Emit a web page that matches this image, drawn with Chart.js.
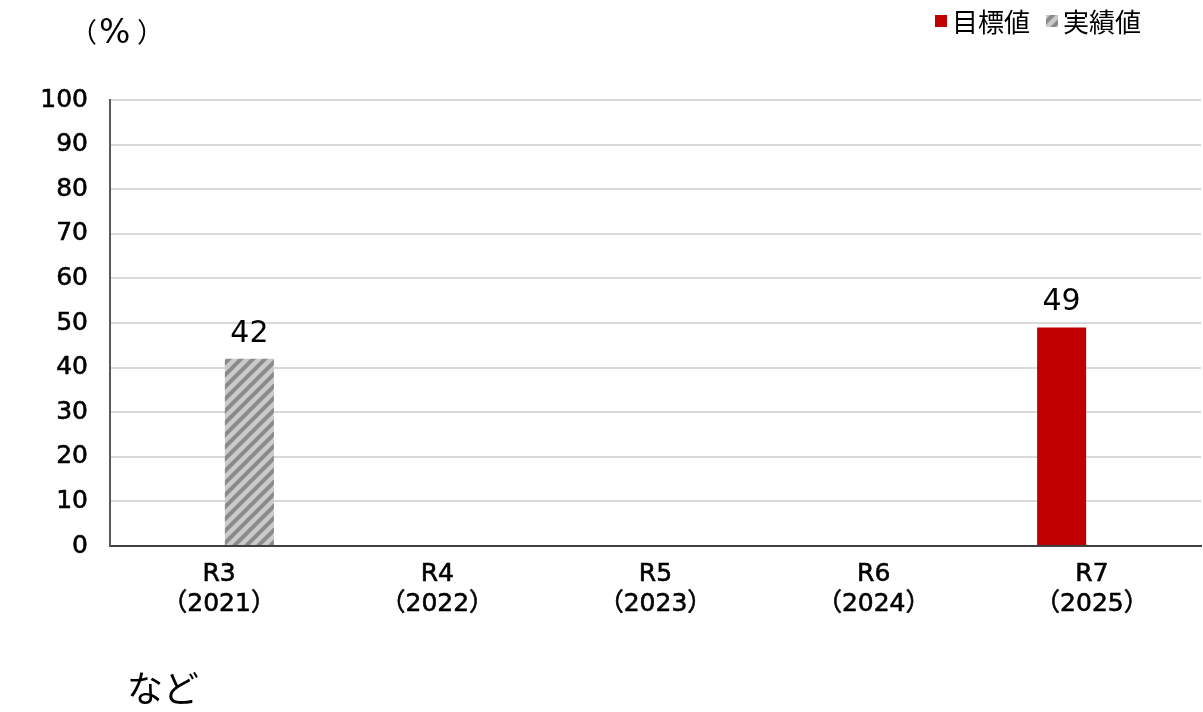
<!DOCTYPE html>
<html lang="ja">
<head>
<meta charset="utf-8">
<script src="https://cdn.jsdelivr.net/npm/chart.js@4"></script>
<style>
    body { margin: 0; background: #fff; }
    canvas { display: block; }
</style>
</head>
<body>
<canvas id="chart" width="1203" height="712"></canvas>
<script>
//DATOS
const categories = [['R3', '（2021）'], ['R4', '（2022）'], ['R5', '（2023）'], ['R6', '（2024）'], ['R7', '（2025）']];
const targetValues = [null, null, null, null, 49];
const actualValues = [42, null, null, null, null];
const seriesNames = ['目標値', '実績値'];
const yTicks = [0, 10, 20, 30, 40, 50, 60, 70, 80, 90, 100];

const FONT = '"DejaVu Sans", "Noto Sans CJK JP", sans-serif';

//patron rayado
function makeHatch() {
    const tile = document.createElement('canvas');
    tile.width = 12;
    tile.height = 12;
    const c = tile.getContext('2d');
    c.fillStyle = '#cacaca';
    c.fillRect(0, 0, 12, 12);
    c.strokeStyle = '#8a8a8a';
    c.lineWidth = 4;
    c.beginPath();
    c.moveTo(-3, 15); c.lineTo(15, -3);
    c.moveTo(-9, 9); c.lineTo(9, -9);
    c.moveTo(3, 21); c.lineTo(21, 3);
    c.stroke();
    return document.getElementById('chart').getContext('2d').createPattern(tile, 'repeat');
}

const hatch = makeHatch();
const colors = ['#c00000', hatch];

//etiquetas y textos extra
const extras = {
    id: 'extras',
    afterDatasetsDraw(chart) {
        const ctx = chart.ctx;
        ctx.save();
        ctx.fillStyle = '#000';
        ctx.font = '30px ' + FONT;
        ctx.textAlign = 'center';
        ctx.textBaseline = 'alphabetic';
        chart.data.datasets.forEach((ds, i) => {
            chart.getDatasetMeta(i).data.forEach((bar, j) => {
                if (ds.data[j] == null) return;
                ctx.fillText(ds.data[j], bar.x, bar.y - 17);
            });
        });

        //leyenda
        ctx.font = '26px ' + FONT;
        ctx.textAlign = 'left';
        ctx.textBaseline = 'middle';
        let x = 935;
        seriesNames.forEach((name, i) => {
            ctx.fillStyle = colors[i];
            ctx.fillRect(x, 15, 12, 12);
            ctx.fillStyle = '#000';
            ctx.fillText(name, x + 17, 25);
            x += 17 + ctx.measureText(name).width + 16;
        });

        //unidad (%)
        ctx.font = '27px ' + FONT;
        ctx.fillText('（', 70, 35);
        ctx.fillText('）', 137, 35);
        ctx.font = '33px ' + FONT;
        ctx.fillText('%', 99, 34);

        ctx.font = '36px ' + FONT;
        ctx.fillText('など', 127, 693);
        ctx.restore();
    }
};

new Chart(document.getElementById('chart'), {
    type: 'bar',
    data: {
        labels: categories,
        datasets: [{
            label: seriesNames[0],
            data: targetValues,
            backgroundColor: colors[0],
            categoryPercentage: 0.555,
            barPercentage: 0.81
        }, {
            label: seriesNames[1],
            data: actualValues,
            backgroundColor: colors[1],
            categoryPercentage: 0.555,
            barPercentage: 0.81
        }]
    },
    options: {
        responsive: false,
        animation: false,
        layout: { padding: { top: 100, left: 0, right: 2, bottom: 0 } },
        plugins: {
            legend: { display: false },
            tooltip: { enabled: false }
        },
        scales: {
            x: {
                afterFit(scale) { scale.height = 166; },
                grid: { display: false, drawTicks: false },
                border: { color: '#404040', width: 2 },
                ticks: {
                    color: '#000',
                    padding: 13,
                    maxRotation: 0,
                    textStrokeColor: '#000',
                    textStrokeWidth: 0.6,
                    font: { family: FONT, size: 25, lineHeight: 1.22 }
                }
            },
            y: {
                min: 0,
                max: 100,
                afterFit(scale) { scale.width = 110; },
                afterBuildTicks(scale) { scale.ticks = yTicks.map(v => ({ value: v })); },
                grid: { color: '#d9d9d9', lineWidth: 2, drawTicks: false },
                border: { color: '#595959', width: 2 },
                ticks: {
                    color: '#000',
                    padding: 22,
                    textStrokeColor: '#000',
                    textStrokeWidth: 0.6,
                    font: { family: FONT, size: 25 }
                }
            }
        }
    },
    plugins: [extras]
});
</script>
</body>
</html>
